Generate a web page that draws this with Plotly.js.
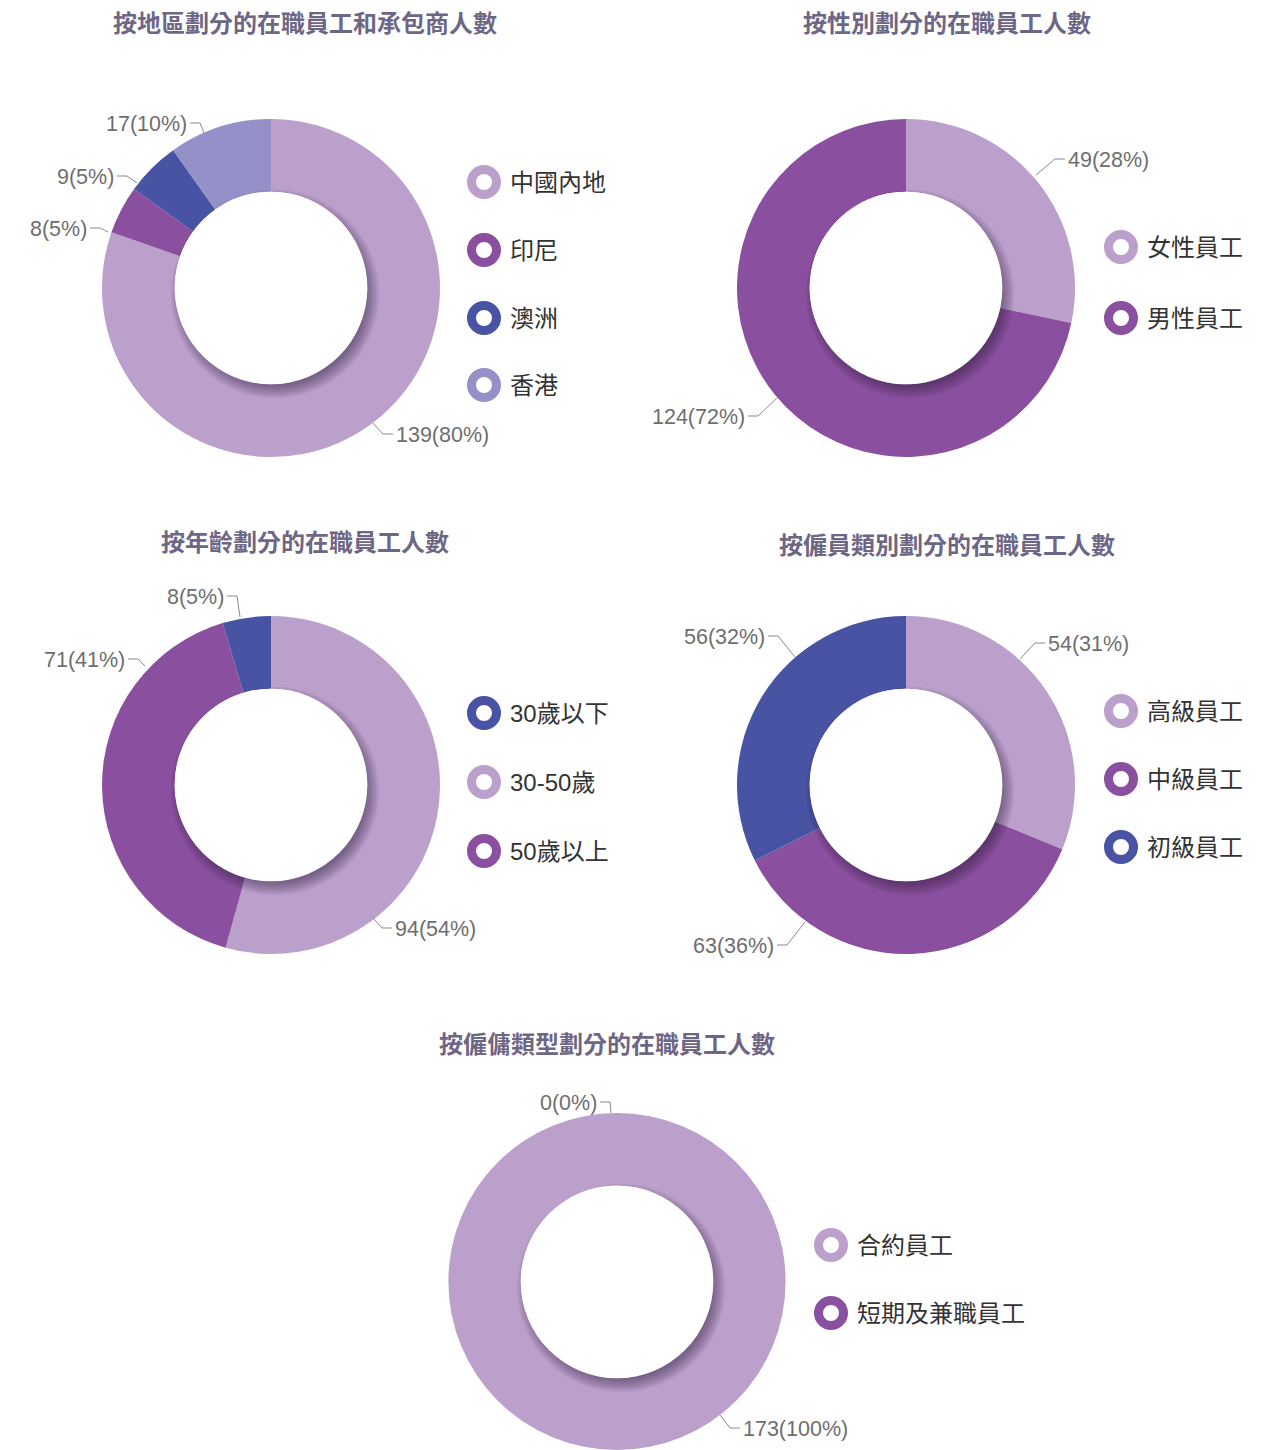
<!DOCTYPE html>
<html><head><meta charset="utf-8">
<script src="https://cdn.plot.ly/plotly-3.0.1.min.js"></script>
<style>html,body{margin:0;padding:0;background:#fff}#chart{width:1283px;height:1450px}</style>
</head><body><div id="chart"></div>
<script>
// ---------- DATA ----------
const regionTitle = '按地區劃分的在職員工和承包商人數';
const regionLabels = ['中國內地', '印尼', '澳洲', '香港'];
const regionValues = [139, 8, 9, 17];

const genderTitle = '按性別劃分的在職員工人數';
const genderLabels = ['女性員工', '男性員工'];
const genderValues = [49, 124];

const ageTitle = '按年齡劃分的在職員工人數';
const ageLabels = ['30歲以下', '30-50歲', '50歲以上'];
const ageValues = [8, 94, 71];

const gradeTitle = '按僱員類別劃分的在職員工人數';
const gradeLabels = ['高級員工', '中級員工', '初級員工'];
const gradeValues = [54, 63, 56];

const typeTitle = '按僱傭類型劃分的在職員工人數';
const typeLabels = ['合約員工', '短期及兼職員工'];
const typeValues = [173, 0];

// ---------- STYLE / LAYOUT ----------
const W = 1283, H = 1450;
const LIGHT = '#bca0cc', PURPLE = '#8a4f9e', BLUE = '#4853a3', LAV = '#9391c7';
const R = 169, HOLE = 0.57;
const FONT = 'Liberation Sans, Arial, "Noto Sans CJK TC", sans-serif';

const charts = [
  { title: regionTitle, labels: regionLabels, values: regionValues,
    colors: [LIGHT, PURPLE, BLUE, LAV], order: [0, 1, 2, 3],
    cx: 271, cy: 288, tx: 305, ty: 23, lx: 484, ly: [182, 250, 318, 385],
    lab: [[102,135,112,146], [-163,-56,-171,-60], [-134,-105,-144,-112], [-67,-155,-71,-165]] },
  { title: genderTitle, labels: genderLabels, values: genderValues,
    colors: [LIGHT, PURPLE], order: [0, 1],
    cx: 906, cy: 288, tx: 947, ty: 23, lx: 1121, ly: [247, 318],
    lab: [[130,-113,149,-129], [-129,110,-148,128]] },
  { title: ageTitle, labels: ageLabels, values: ageValues,
    colors: [BLUE, LIGHT, PURPLE], order: [1, 2, 0],
    cx: 271, cy: 785, tx: 305, ty: 542, lx: 484, ly: [713, 782, 851],
    lab: [[-31,-168,-34,-189], [102,133,111,143], [-126,-119,-133,-126]] },
  { title: gradeTitle, labels: gradeLabels, values: gradeValues,
    colors: [LIGHT, PURPLE, BLUE], order: [0, 1, 2],
    cx: 906, cy: 785, tx: 947, ty: 545, lx: 1121, ly: [711, 779, 847],
    lab: [[114,-126,129,-142], [-101,137,-119,160], [-111,-128,-128,-149]] },
  { title: typeTitle, labels: typeLabels, values: typeValues,
    colors: [LIGHT, PURPLE], order: [0, 1],
    cx: 617, cy: 1282, tx: 607, ty: 1044, lx: 831, ly: [1245, 1313],
    lab: [[103,133,113,146], [-6,-169,-7,-180]] }
];

const traces = [{ type: 'scatter', x: [], y: [], showlegend: false, hoverinfo: 'skip' }];
const shapes = [];
const annotations = [];

charts.forEach(ch => {
  const ord = ch.order;
  traces.push({
    type: 'pie',
    labels: ord.map(i => ch.labels[i]),
    values: ord.map(i => ch.values[i]),
    marker: { colors: ord.map(i => ch.colors[i]), line: { width: 0 } },
    hole: HOLE, sort: false, direction: 'clockwise', rotation: 0,
    textinfo: 'none', hoverinfo: 'none', showlegend: false,
    domain: { x: [(ch.cx - R) / W, (ch.cx + R) / W], y: [1 - (ch.cy + R) / H, 1 - (ch.cy - R) / H] }
  });
  const r = R * HOLE;
  // inner drop shadow
  for (let k = 0; k < 9; k++) {
    const rr = r - 5 + k * 1.6;
    shapes.push({ type: 'circle', xref: 'x', yref: 'y', layer: 'above',
      x0: ch.cx + 4 - rr, x1: ch.cx + 4 + rr, y0: ch.cy + 6 - rr, y1: ch.cy + 6 + rr,
      fillcolor: 'rgba(50,25,60,0.065)', line: { width: 0 } });
  }
  shapes.push({ type: 'circle', xref: 'x', yref: 'y', layer: 'above',
    x0: ch.cx - r, x1: ch.cx + r, y0: ch.cy - r, y1: ch.cy + r,
    fillcolor: '#ffffff', line: { width: 0 } });

  // title
  annotations.push({ xref: 'x', yref: 'y', x: ch.tx, y: ch.ty, showarrow: false,
    xanchor: 'center', yanchor: 'middle', text: '<b>' + ch.title + '</b>',
    font: { family: FONT, size: 24, color: '#6e6685' } });

  // legend
  const total = ch.values.reduce((a, b) => a + b, 0);
  ch.labels.forEach((lb, i) => {
    const y = ch.ly[i];
    shapes.push({ type: 'circle', xref: 'x', yref: 'y', layer: 'above',
      x0: ch.lx - 12.5, x1: ch.lx + 12.5, y0: y - 12.5, y1: y + 12.5,
      fillcolor: '#ffffff', line: { color: ch.colors[i], width: 9 } });
    annotations.push({ xref: 'x', yref: 'y', x: ch.lx + 24, y: y, showarrow: false,
      xanchor: 'left', yanchor: 'middle', text: lb,
      font: { family: FONT, size: 24, color: '#333333' } });

    // data labels with leader lines
    const L = ch.lab[i];
    const sx = ch.cx + L[0], sy = ch.cy + L[1], ex = ch.cx + L[2], ey = ch.cy + L[3];
    const dir = L[2] >= 0 ? 1 : -1;
    const hx = ex + dir * 10;
    shapes.push({ type: 'path', xref: 'x', yref: 'y', layer: 'above',
      path: `M${sx},${sy} L${ex},${ey} L${hx},${ey}`,
      line: { color: '#8a8a8a', width: 1 } });
    const pct = Math.round(ch.values[i] / total * 100);
    annotations.push({ xref: 'x', yref: 'y', x: hx + dir * 1, y: ey + 1, showarrow: false,
      xanchor: dir > 0 ? 'left' : 'right', yanchor: 'middle',
      text: ch.values[i] + '(' + pct + '%)',
      font: { family: FONT, size: 21.5, color: '#6e6e6e' } });
  });
});

const layout = {
  width: W, height: H,
  margin: { l: 0, r: 0, t: 0, b: 0 },
  paper_bgcolor: '#ffffff', plot_bgcolor: 'rgba(0,0,0,0)',
  showlegend: false,
  xaxis: { range: [0, W], visible: false, fixedrange: true },
  yaxis: { range: [H, 0], visible: false, fixedrange: true },
  shapes: shapes, annotations: annotations
};

Plotly.newPlot('chart', traces, layout, { staticPlot: true, displayModeBar: false });
</script>
</body></html>
